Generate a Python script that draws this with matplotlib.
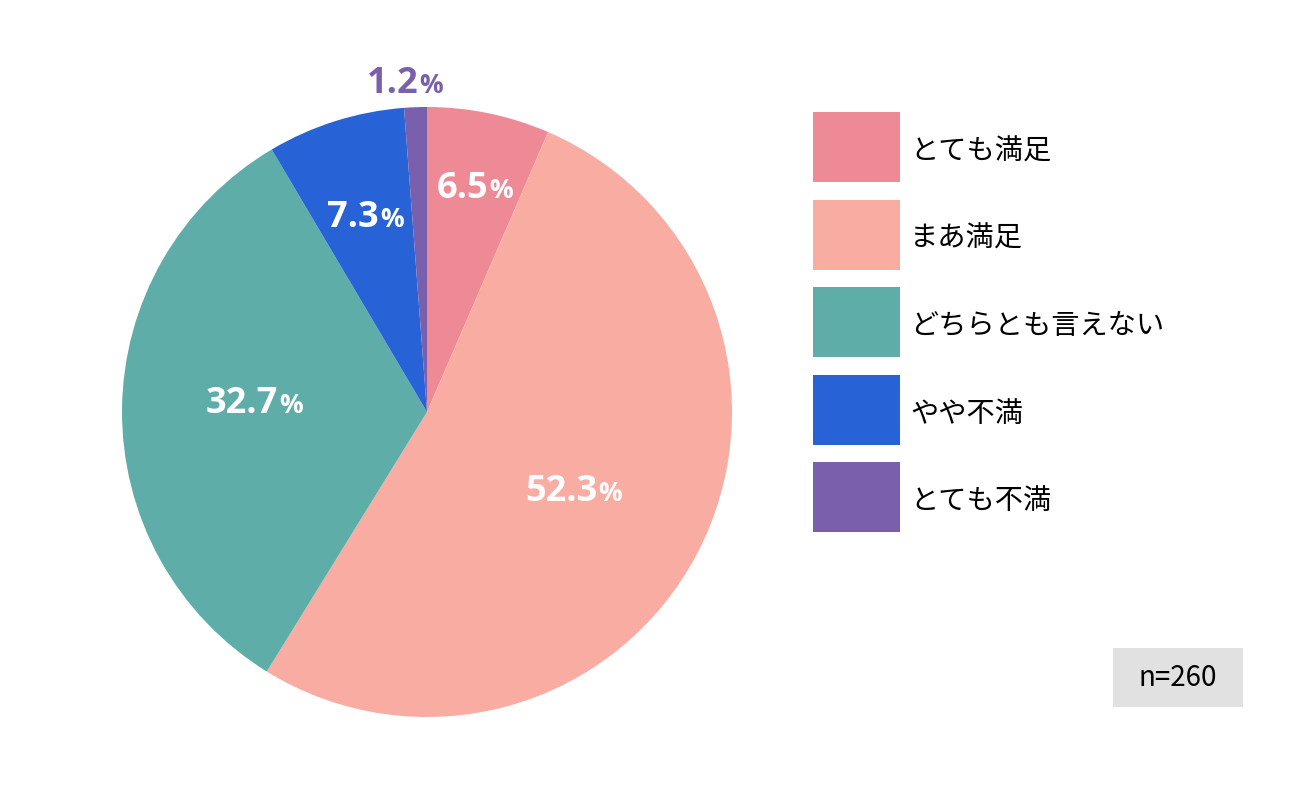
import numpy as np
import matplotlib
matplotlib.use("Agg")
import matplotlib.pyplot as plt
from matplotlib.patches import Rectangle
from matplotlib.legend_handler import HandlerPatch

plt.rcParams['font.family'] = ['Noto Sans CJK JP', 'DejaVu Sans']

# data
labels = ["とても満足", "まあ満足", "どちらとも言えない", "やや不満", "とても不満"]
values = [6.5, 52.3, 32.7, 7.3, 1.2]
colors = ["#EE8A96", "#F9ACA1", "#5FADA9", "#2762D6", "#7A5FAC"]
n_total = 260

# label placement per wedge: distance (fraction of radius), angle nudge (deg), colour
label_dist = [0.76, 0.54, 0.57, 0.68, 1.09]
label_nudge = [0, 0, -3.5, 0, 1.8]
label_col = ["white", "white", "white", "white", "#7A5FAC"]

W, H = 1314, 796
fig = plt.figure(figsize=(W / 100, H / 100), dpi=100)
ax = fig.add_axes([0, 0, 1, 1])

cx, cy, r = 427, H - 412, 305
wedges, _ = ax.pie(values, colors=colors, startangle=90, counterclock=False,
                   center=(cx, cy), radius=r,
                   wedgeprops=dict(edgecolor="none", linewidth=0))
ax.set_xlim(0, W)
ax.set_ylim(0, H)
ax.set_aspect("equal")
ax.axis("off")

fig.canvas.draw()
renderer = fig.canvas.get_renderer()

for w, v, d, nd, c in zip(wedges, values, label_dist, label_nudge, label_col):
    ang = np.deg2rad((w.theta1 + w.theta2) / 2 + nd)
    x = cx + d * r * np.cos(ang)
    y = cy + d * r * np.sin(ang)
    t1 = ax.text(0, 0, "%.1f" % v, fontsize=26, fontweight="bold",
                 family=["Open Sans", "DejaVu Sans"], color=c,
                 ha="left", va="baseline")
    t2 = ax.text(0, 0, "%", fontsize=19, fontweight="bold",
                 family=["Open Sans", "DejaVu Sans"], color=c,
                 ha="left", va="baseline")
    w1 = t1.get_window_extent(renderer).width
    w2 = t2.get_window_extent(renderer).width
    left = x - (w1 + w2) / 2
    base = y - 13
    t1.set_position((left, base))
    t2.set_position((left + w1 + 1, base))


# legend swatch raised a little so the label sits slightly lower, like the original
def swatch(legend, orig_handle, xdescent, ydescent, width, height, fontsize):
    return Rectangle((-xdescent, -ydescent + 3.2), width, height)


fig.legend(wedges, labels, loc="upper left",
           bbox_to_anchor=(813 / W, 1 - 116.5 / H), borderaxespad=0,
           borderpad=0, frameon=False, fontsize=20.3,
           handlelength=3.085, handleheight=3.443, labelspacing=0.62,
           handletextpad=0.36,
           handler_map={type(wedges[0]): HandlerPatch(patch_func=swatch)})

ax.add_patch(Rectangle((1113, H - 707), 130, 59, facecolor="#E1E1E1",
                       edgecolor="none"))
ax.text(1178, H - 677.5, "n=%d" % n_total, fontsize=20, ha="center",
        va="center")

fig.savefig("out.png", dpi=100, facecolor="white")
